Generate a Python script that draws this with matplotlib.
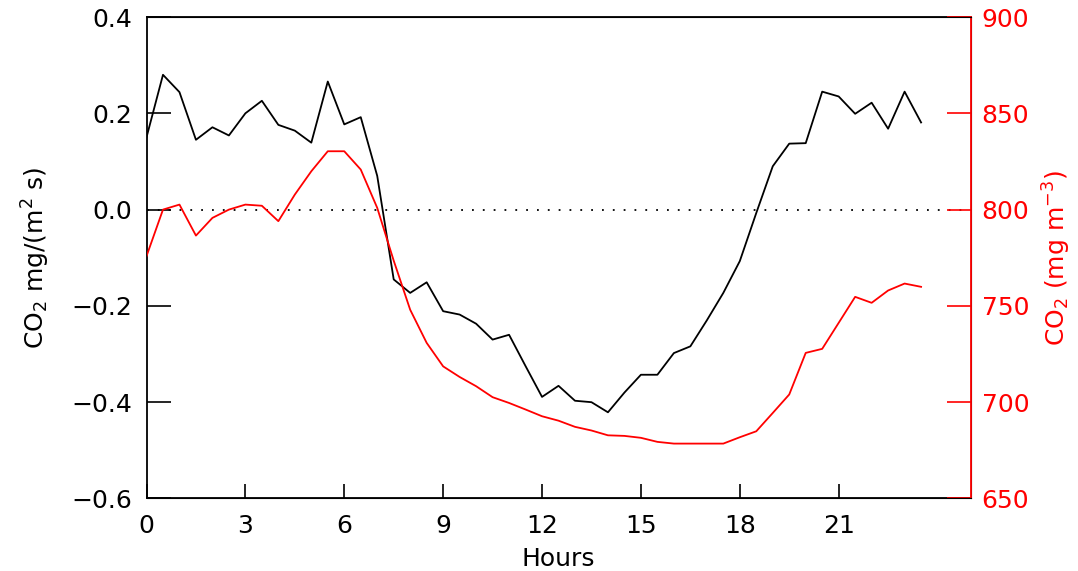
import matplotlib.pyplot as plt
import numpy as np

# half-hourly diurnal means
hours = np.arange(48) * 0.5

flux = [0.15, 0.28, 0.244, 0.145, 0.171, 0.154, 0.200, 0.226,
        0.176, 0.164, 0.139, 0.266, 0.177, 0.192, 0.070, -0.145,
        -0.173, -0.151, -0.211, -0.218, -0.237, -0.270, -0.260, -0.325,
        -0.389, -0.366, -0.397, -0.400, -0.421, -0.380, -0.343, -0.343,
        -0.298, -0.284, -0.230, -0.173, -0.107, -0.007, 0.090, 0.137,
        0.138, 0.245, 0.235, 0.199, 0.222, 0.168, 0.245, 0.181]

conc = [775.8, 800.0, 802.6, 786.5, 795.7, 800.0, 802.6, 802.0,
        794.0, 807.8, 819.9, 830.3, 830.3, 820.8, 800.9, 773.5,
        748.0, 730.8, 718.6, 713.1, 708.3, 702.6, 699.6, 696.2,
        692.7, 690.4, 687.2, 685.3, 682.8, 682.5, 681.5, 679.4,
        678.5, 678.5, 678.5, 678.5, 681.8, 684.9, 694.4, 704.0,
        725.6, 727.7, 741.2, 754.7, 751.6, 758.0, 761.6, 759.9]

xticks = [0, 3, 6, 9, 12, 15, 18, 21]

plt.rcParams['font.family'] = 'DejaVu Sans'
plt.rcParams['font.size'] = 18

fig = plt.figure(figsize=(10.78, 5.71), dpi=100)
ax = fig.add_axes([0.1359, 0.127, 0.7644, 0.8432])
ax2 = ax.twinx()

ax.plot(hours, flux, color='k', lw=1.3)
ax.axhline(0, color='k', lw=1.3, ls=(0, (1, 5)))
ax2.plot(hours, conc, color='red', lw=1.3)

ax.set_xlim(0, 25)
ax.set_ylim(-0.6, 0.4)
ax2.set_ylim(650, 900)

ax.set_xticks(xticks)
ax.set_yticks(np.arange(-0.6, 0.41, 0.2))
ax.set_yticklabels(['\u22120.6', '\u22120.4', '\u22120.2', '0.0', '0.2', '0.4'])
ax2.set_yticks(np.arange(650, 901, 50))

ax.tick_params(axis='x', direction='in', length=10, width=1.2, pad=11)
ax.tick_params(axis='y', direction='in', length=17, width=1.2, pad=10)
ax2.tick_params(axis='y', direction='in', length=17, width=1.2, pad=8,
                colors='red')

for s in ['left', 'bottom', 'top']:
    ax.spines[s].set_linewidth(1.3)
ax2.spines['right'].set_color('red')
ax2.spines['right'].set_linewidth(1.3)
ax2.spines['left'].set_visible(False)

ax.set_xlabel('Hours', labelpad=7)
ax.set_ylabel(r'CO$_2$ mg/(m$^2$ s)', labelpad=14)
ax2.set_ylabel(r'CO$_2$ (mg m$^{-3}$)', color='red', rotation=90, labelpad=8)

fig.savefig('out.png', dpi=100)
